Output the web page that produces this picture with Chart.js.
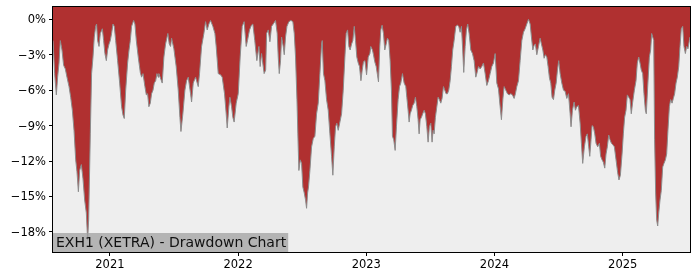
<!DOCTYPE html>
<html>
<head>
<meta charset="utf-8">
<script src="https://cdn.jsdelivr.net/npm/chart.js"></script>
<style>
  html, body { margin: 0; padding: 0; background: #fff; }
  #chart { display: block; }
</style>
</head>
<body>
<canvas id="chart" width="700" height="280"></canvas>
<script>
// dates as decimal years, drawdown in percent
const dates = [
  2020.556, 2020.569, 2020.582, 2020.592, 2020.603, 2020.613, 2020.626, 2020.639, 2020.652, 2020.665,
  2020.681, 2020.694, 2020.707, 2020.720, 2020.733, 2020.743, 2020.754, 2020.764, 2020.777, 2020.790,
  2020.803, 2020.816, 2020.826, 2020.834, 2020.847, 2020.857, 2020.868, 2020.878, 2020.889, 2020.896,
  2020.904, 2020.915, 2020.925, 2020.941, 2020.951, 2020.961, 2020.972, 2020.982, 2020.993, 2021.003,
  2021.013, 2021.024, 2021.034, 2021.045, 2021.060, 2021.076, 2021.091, 2021.102, 2021.112, 2021.123,
  2021.138, 2021.149, 2021.159, 2021.169, 2021.185, 2021.195, 2021.206, 2021.221, 2021.237, 2021.247,
  2021.258, 2021.273, 2021.284, 2021.294, 2021.304, 2021.315, 2021.325, 2021.336, 2021.346, 2021.357,
  2021.367, 2021.377,
  2021.382, 2021.408, 2021.421, 2021.434, 2021.452, 2021.463, 2021.473, 2021.481, 2021.499, 2021.517,
  2021.533, 2021.546, 2021.554, 2021.569, 2021.585, 2021.598, 2021.611, 2021.629, 2021.637, 2021.650,
  2021.668, 2021.689, 2021.699, 2021.715, 2021.733, 2021.746, 2021.759, 2021.772, 2021.785, 2021.803,
  2021.819, 2021.829, 2021.845, 2021.863, 2021.876, 2021.894, 2021.907, 2021.915, 2021.928, 2021.936,
  2021.949, 2021.959, 2021.969, 2021.985, 2022.001, 2022.016, 2022.032, 2022.047, 2022.063, 2022.073,
  2022.089, 2022.104, 2022.115, 2022.130, 2022.146, 2022.162, 2022.172, 2022.183, 2022.203, 2022.215,
  2022.222, 2022.235, 2022.248, 2022.261, 2022.274, 2022.292, 2022.305, 2022.313, 2022.321, 2022.331,
  2022.339, 2022.352, 2022.360, 2022.370, 2022.381, 2022.396, 2022.412, 2022.427, 2022.438, 2022.448,
  2022.459, 2022.466, 2022.474, 2022.485, 2022.495, 2022.505, 2022.516, 2022.526, 2022.534, 2022.542,
  2022.549, 2022.560, 2022.573, 2022.586, 2022.599, 2022.612, 2022.625, 2022.638, 2022.651, 2022.656,
  2022.666, 2022.677, 2022.690, 2022.703, 2022.716, 2022.729, 2022.739, 2022.750, 2022.760, 2022.770,
  2022.781, 2022.794, 2022.807, 2022.820, 2022.833, 2022.843, 2022.854, 2022.864, 2022.874, 2022.885,
  2022.895, 2022.906, 2022.916, 2022.926, 2022.937, 2022.947, 2022.958, 2022.968, 2022.978, 2022.989,
  2023.002, 2023.015, 2023.028,
  2023.035, 2023.048, 2023.056, 2023.066, 2023.077, 2023.087, 2023.095, 2023.105, 2023.113, 2023.123,
  2023.134, 2023.144, 2023.155, 2023.165, 2023.175, 2023.186, 2023.196, 2023.204, 2023.214, 2023.225,
  2023.235, 2023.248, 2023.259, 2023.269, 2023.282, 2023.295, 2023.308, 2023.316, 2023.326, 2023.334,
  2023.342, 2023.352, 2023.362, 2023.373, 2023.383, 2023.394, 2023.404, 2023.412, 2023.420, 2023.430,
  2023.440, 2023.451, 2023.461, 2023.472, 2023.482, 2023.492, 2023.503, 2023.513, 2023.521, 2023.529,
  2023.539, 2023.550, 2023.560, 2023.570, 2023.581, 2023.591, 2023.602, 2023.612, 2023.622, 2023.633,
  2023.643, 2023.654, 2023.664, 2023.674, 2023.685, 2023.698, 2023.711, 2023.721, 2023.732, 2023.742,
  2023.752, 2023.760, 2023.771, 2023.781, 2023.791, 2023.802, 2023.815, 2023.828, 2023.841, 2023.854,
  2023.862, 2023.875, 2023.888, 2023.901, 2023.914, 2023.927, 2023.940, 2023.953, 2023.966, 2023.979,
  2023.992, 2024.005, 2024.018, 2024.031, 2024.044, 2024.054, 2024.065, 2024.075, 2024.088, 2024.101,
  2024.114, 2024.127, 2024.140, 2024.153, 2024.163, 2024.174, 2024.187, 2024.200, 2024.213, 2024.226,
  2024.239, 2024.252, 2024.265, 2024.278, 2024.288, 2024.299, 2024.309, 2024.319, 2024.330, 2024.343,
  2024.356, 2024.366, 2024.377, 2024.387, 2024.397, 2024.408, 2024.418, 2024.429, 2024.439, 2024.449,
  2024.460, 2024.470, 2024.481, 2024.491, 2024.501, 2024.512, 2024.525, 2024.538, 2024.551, 2024.564,
  2024.577, 2024.590, 2024.597, 2024.608, 2024.621, 2024.631, 2024.642, 2024.655, 2024.668, 2024.678,
  2024.688, 2024.701, 2024.714, 2024.724, 2024.735, 2024.743, 2024.753, 2024.761, 2024.771, 2024.782,
  2024.792, 2024.805, 2024.818, 2024.828, 2024.839, 2024.849, 2024.860, 2024.870, 2024.880, 2024.891,
  2024.901, 2024.912, 2024.922, 2024.935, 2024.948, 2024.961, 2024.971, 2024.982, 2024.995, 2025.005,
  2025.015, 2025.026, 2025.036, 2025.047, 2025.057, 2025.067, 2025.078, 2025.091, 2025.104, 2025.114,
  2025.125, 2025.135, 2025.145, 2025.156, 2025.166, 2025.177, 2025.184, 2025.195, 2025.208, 2025.218,
  2025.226, 2025.234, 2025.242, 2025.249, 2025.257, 2025.265, 2025.273, 2025.281, 2025.291, 2025.301,
  2025.312, 2025.322, 2025.333, 2025.343, 2025.353, 2025.364, 2025.374, 2025.385, 2025.395, 2025.405,
  2025.416, 2025.426, 2025.437, 2025.447, 2025.457, 2025.468, 2025.478, 2025.489, 2025.499, 2025.509,
  2025.520, 2025.525
];
const drawdown = [
  -1.8, -4.6, -6.4, -4.9, -3.7, -1.8, -2.6, -3.9, -4.2, -4.9,
  -5.7, -6.6, -7.7, -9.4, -11.9, -12.9, -14.6, -12.8, -12.3, -13.5,
  -15.3, -16.4, -18.7, -17.0, -9.7, -4.6, -3.2, -1.5, -0.6, -0.4,
  -1.8, -2.3, -1.2, -0.8, -1.8, -2.9, -3.5, -2.6, -2.1, -1.8,
  -1.2, -0.4, -0.6, -1.8, -3.5, -5.4, -7.4, -8.1, -8.4, -6.0,
  -3.7, -2.6, -1.8, -0.6, -0.1, -0.4, -1.8, -3.2, -4.5, -4.9,
  -4.6, -5.7, -6.4, -6.3, -7.4, -7.1, -6.3, -6.0, -5.4, -5.2,
  -4.6, -4.9,
  -4.6, -5.4, -3.2, -2.1, -1.2, -2.1, -2.3, -1.6, -2.5, -4.0,
  -6.0, -8.3, -9.5, -8.0, -6.0, -5.2, -4.9, -6.3, -7.0, -5.4,
  -4.9, -5.7, -4.6, -2.3, -1.2, -0.2, -0.9, -0.4, -0.1, -0.6,
  -1.2, -2.3, -4.6, -4.7, -4.9, -6.3, -8.0, -9.2, -7.4, -6.6,
  -7.4, -8.3, -8.7, -7.1, -6.3, -3.2, -0.6, -0.2, -2.3, -1.8,
  -0.9, -0.5, -0.4, -1.8, -3.5, -2.3, -4.0, -2.9, -4.6, -4.3,
  -1.2, -0.9, -1.9, -0.6, -0.4, -0.1, -1.2, -3.2, -4.6, -3.5,
  -1.5, -2.3, -3.0, -1.5, -0.6, -0.2, -0.1, -0.2, -1.2, -3.2,
  -6.8, -9.7, -12.8, -11.9, -12.2, -14.2, -14.7, -15.3, -16.0, -14.7,
  -14.2, -12.8, -10.8, -10.1, -9.9, -8.0, -7.1, -4.6, -2.1, -1.8,
  -4.6, -5.2, -6.8, -7.7, -9.7, -11.6, -13.2, -10.8, -9.1, -8.8,
  -9.4, -8.7, -8.0, -6.0, -3.2, -1.2, -0.9, -2.3, -2.6, -2.1,
  -1.8, -0.6, -1.8, -3.2, -3.7, -4.0, -5.2, -4.3, -3.6, -3.5,
  -4.7, -3.2, -2.9,
  -2.3, -2.6, -3.0, -3.6, -4.0, -4.7, -5.3, -2.3, -0.9, -0.5,
  -1.2, -2.6, -2.1, -1.6, -1.8, -3.5, -6.0, -9.9, -10.2, -11.1,
  -9.1, -6.8, -5.7, -5.4, -4.6, -5.4, -5.7, -6.6, -7.7, -8.7,
  -8.0, -7.7, -7.3, -7.1, -6.6, -7.4, -8.5, -9.7, -8.5, -8.3,
  -8.0, -7.7, -8.0, -9.1, -10.4, -9.1, -8.8, -10.4, -9.4, -9.7,
  -8.3, -7.4, -6.6, -6.8, -7.1, -6.7, -5.7, -6.0, -6.3, -6.3,
  -6.0, -5.2, -4.0, -2.6, -1.8, -0.6, -0.5, -0.6, -1.1, -0.6,
  -2.6, -4.5, -2.3, -0.9, -0.4, -1.2, -2.6, -2.9, -3.5, -4.9,
  -4.6, -4.0, -4.2, -4.0, -3.7, -4.6, -5.6, -5.2, -4.6, -4.0,
  -3.7, -2.9, -5.4, -5.9, -7.4, -8.5, -6.8, -5.7, -6.0, -6.3,
  -6.4, -6.3, -6.4, -6.7, -6.3, -5.7, -5.2, -3.5, -1.8, -1.1,
  -0.8, -0.4, 0.0, -0.4, -1.5, -2.6, -2.2, -2.1, -3.0, -2.3,
  -1.6, -2.1, -2.6, -3.3, -3.0, -3.2, -4.0, -5.0, -5.4, -6.6,
  -6.8, -6.0, -5.4, -4.3, -3.5, -4.6, -5.4, -6.0, -6.1, -6.7,
  -6.3, -8.0, -9.1, -7.7, -7.0, -7.7, -7.4, -7.3, -8.8, -10.5,
  -12.2, -10.8, -9.9, -9.7, -10.8, -11.6, -10.2, -9.0, -9.1, -9.7,
  -10.5, -10.8, -10.5, -11.6, -11.9, -12.1, -12.6, -11.4, -10.8, -9.8,
  -10.2, -10.5, -10.6, -10.8, -11.9, -13.0, -13.6, -13.2, -11.4, -9.7,
  -8.3, -7.7, -6.4, -6.6, -6.8, -8.0, -7.0, -6.0, -5.2, -3.7,
  -3.2, -3.7, -4.3, -4.6, -6.3, -7.7, -8.0, -5.7, -3.2, -2.6,
  -1.2, -1.5, -1.8, -10.2, -14.7, -17.0, -17.5, -16.4, -15.3, -14.5,
  -12.5, -12.2, -11.9, -11.4, -9.4, -7.4, -6.8, -7.1, -6.7, -6.3,
  -5.4, -4.9, -4.0, -2.3, -0.8, -0.6, -2.3, -2.9, -2.3, -2.5,
  -1.8, -1.5
];
const yearTicks = [2021, 2022, 2023, 2024, 2025];
const pctTicks = [0, -3, -6, -9, -12, -15, -18];
const chartTitle = 'EXH1 (XETRA) - Drawdown Chart';

const points = dates.map((d, i) => ({ x: d, y: drawdown[i] }));

const framePlugin = {
    id: 'frame',
    beforeDraw(chart) {
        const a = chart.chartArea;
        const ctx = chart.ctx;
        ctx.save();
        ctx.fillStyle = '#eeeeee';
        ctx.fillRect(a.left, a.top, a.right - a.left, a.bottom - a.top);
        ctx.restore();
    },
    afterDraw(chart) {
        const a = chart.chartArea;
        const ctx = chart.ctx;
        ctx.save();
        // title box in lower left
        ctx.font = '14px "DejaVu Sans"';
        const w = ctx.measureText(chartTitle).width;
        ctx.fillStyle = 'rgba(160,160,160,0.75)';
        ctx.fillRect(a.left, a.bottom - 19, w + 5, 19);
        ctx.fillStyle = '#111';
        ctx.textBaseline = 'alphabetic';
        ctx.fillText(chartTitle, a.left + 3, a.bottom - 5);
        // frame
        ctx.strokeStyle = '#000';
        ctx.lineWidth = 1;
        ctx.strokeRect(Math.round(a.left) - 0.5, Math.round(a.top) - 0.5,
            Math.round(a.right - a.left) + 1, Math.round(a.bottom - a.top) + 1);
        ctx.restore();
    }
};

const theChart = new Chart(document.getElementById('chart'), {
    type: 'line',
    data: {
        datasets: [{
            data: points,
            fill: 'end',
            backgroundColor: '#b03030',
            borderColor: '#8c8c8c',
            borderWidth: 1,
            pointRadius: 0,
            tension: 0
        }]
    },
    options: {
        responsive: false,
        animation: false,
        devicePixelRatio: 1,
        layout: { padding: { top: 7, right: 10, left: 0, bottom: 0 } },
        plugins: {
            legend: { display: false },
            tooltip: { enabled: false }
        },
        scales: {
            x: {
                type: 'linear',
                min: 2020.556,
                max: 2025.525,
                afterBuildTicks: (s) => { s.ticks = yearTicks.map(v => ({ value: v })); },
                afterFit: (s) => { s.height = 28; s.paddingLeft = 0; s.paddingRight = 0; },
                ticks: {
                    color: '#000',
                    font: { family: 'DejaVu Sans', size: 11.5 },
                    padding: 2,
                    maxRotation: 0,
                    callback: (v) => String(v)
                },
                grid: { drawOnChartArea: false, color: '#000', tickLength: 4 },
                border: { display: false }
            },
            y: {
                min: -19.7,
                max: 1.04,
                afterBuildTicks: (s) => { s.ticks = pctTicks.map(v => ({ value: v })); },
                afterFit: (s) => { s.width = 53; s.paddingTop = 0; s.paddingBottom = 0; },
                ticks: {
                    color: '#000',
                    font: { family: 'DejaVu Sans', size: 11.5 },
                    padding: 3,
                    labelOffset: 1,
                    callback: (v) => (v < 0 ? '\u2212' + Math.abs(v) : v) + '%'
                },
                grid: { drawOnChartArea: false, color: '#000', tickLength: 4 },
                border: { display: false }
            }
        }
    },
    plugins: [framePlugin]
});
</script>
</body>
</html>
